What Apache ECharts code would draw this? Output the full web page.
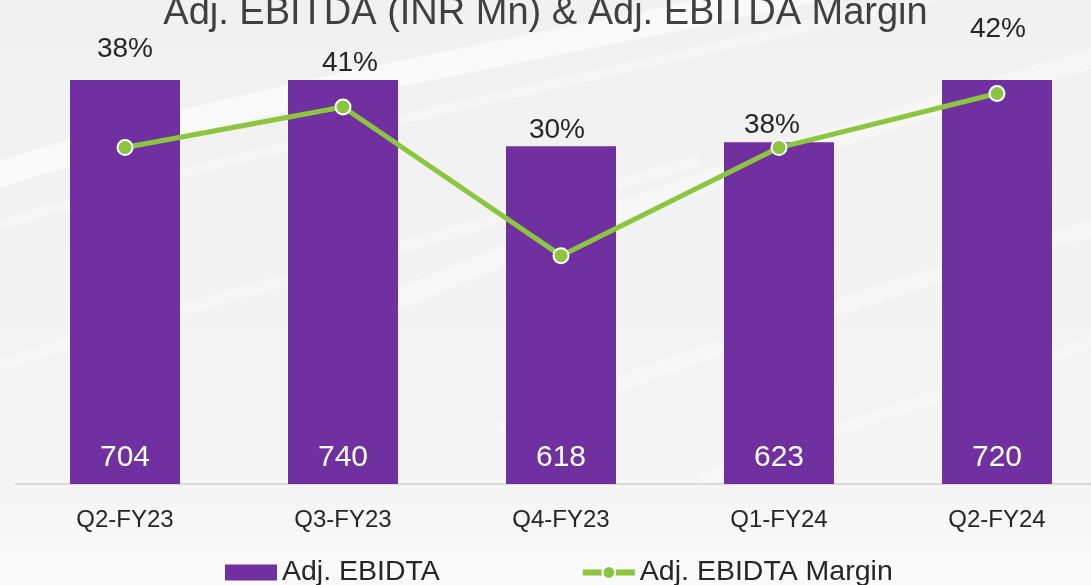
<!DOCTYPE html>
<html>
<head>
<meta charset="utf-8">
<script src="https://cdn.jsdelivr.net/npm/echarts@6/dist/echarts.min.js"></script>
<style>
  html, body { margin: 0; padding: 0; }
  #chart { width: 1091px; height: 585px; }
</style>
</head>
<body>
<div id="chart"></div>
<script>
// data
const quarters = ["Q2-FY23", "Q3-FY23", "Q4-FY23", "Q1-FY24", "Q2-FY24"];
const adjEbitda = [704, 740, 618, 623, 720];
const adjEbitdaMargin = [38, 41, 30, 38, 42];

// where each margin label sits relative to its point (styling only)
const marginLabelOffsets = [[0, -98], [7, -44], [-4, -125], [-7, -22], [1, -64]];

const chart = echarts.init(document.getElementById("chart"));
const font = "Liberation Sans";

// soft white swooshes in the slide background
const swoosh = (x1, y1, cx1, cy1, cx2, cy2, x2, y2, w, op) => ({
  type: "bezierCurve", z: -1, silent: true,
  shape: { x1: x1, y1: y1, cpx1: cx1, cpy1: cy1, cpx2: cx2, cpy2: cy2, x2: x2, y2: y2 },
  style: { stroke: "#ffffff", lineWidth: w, opacity: op, fill: null },
});

const option = {
  backgroundColor: {
    type: "linear", x: 0, y: 0, x2: 0, y2: 1,
    colorStops: [
      { offset: 0, color: "#f1f1f1" },
      { offset: 0.8, color: "#f4f4f4" },
      { offset: 1, color: "#fafafa" },
    ],
  },
  textStyle: { fontFamily: font },
  graphic: [
    swoosh(-50, 190, 250, 90, 550, 50, 900, -30, 26, 0.6),
    swoosh(-50, 240, 300, 130, 600, 80, 1000, -20, 10, 0.35),
    swoosh(350, 320, 600, 210, 850, 130, 1120, 50, 20, 0.4),
    swoosh(-50, 380, 200, 300, 400, 250, 700, 160, 12, 0.3),
    swoosh(500, 430, 750, 330, 950, 270, 1120, 220, 16, 0.35),
    swoosh(700, 480, 850, 420, 1000, 380, 1120, 330, 12, 0.3),
  ],
  title: {
    text: "Adj. EBITDA (INR Mn) & Adj. EBITDA Margin",
    left: "center",
    top: -5,
    padding: 0,
    textStyle: {
      color: "#404040",
      fontSize: 38,
      fontWeight: "normal",
      fontFamily: font,
    },
  },
  legend: {
    left: 225,
    bottom: -2,
    padding: 0,
    itemWidth: 52,
    itemHeight: 16,
    itemGap: 140,
    data: [
      { name: "Adj. EBIDTA", icon: "rect" },
      { name: "Adj. EBIDTA Margin", lineStyle: { width: 6 } },
    ],
    textStyle: { color: "#262626", fontSize: 28.5, fontFamily: font },
  },
  grid: {
    left: 16,
    right: -15,
    top: 80,
    bottom: 101,
    outerBoundsMode: "none",
    containLabel: false,
  },
  xAxis: {
    type: "category",
    data: quarters,
    axisTick: { show: false },
    axisLine: { lineStyle: { color: "#d9d9d9", width: 2 } },
    axisLabel: { color: "#262626", fontSize: 24, margin: 24, fontFamily: font },
  },
  yAxis: [
    { type: "value", min: 200, max: 700, show: false, splitLine: { show: false } },
    { type: "value", min: 13.1, max: 43, show: false, splitLine: { show: false } },
  ],
  series: [
    {
      name: "Adj. EBIDTA",
      type: "bar",
      data: adjEbitda,
      barWidth: 110,
      clip: true,
      itemStyle: { color: "#7030A0" },
      label: {
        show: true,
        position: "insideBottom",
        distance: 11,
        color: "#ffffff",
        fontSize: 30,
        fontFamily: font,
      },
    },
    {
      name: "Adj. EBIDTA Margin",
      type: "line",
      yAxisIndex: 1,
      data: adjEbitdaMargin.map((v, i) => ({
        value: v,
        label: { offset: marginLabelOffsets[i] },
      })),
      symbol: "circle",
      symbolSize: 15,
      lineStyle: { color: "#8CC63F", width: 5 },
      itemStyle: { color: "#8CC63F", borderColor: "#ffffff", borderWidth: 2 },
      label: {
        show: true,
        position: "inside",
        formatter: "{c}%",
        color: "#262626",
        fontSize: 28,
        fontFamily: font,
      },
      z: 5,
    },
  ],
};

chart.setOption(option);
</script>
</body>
</html>
